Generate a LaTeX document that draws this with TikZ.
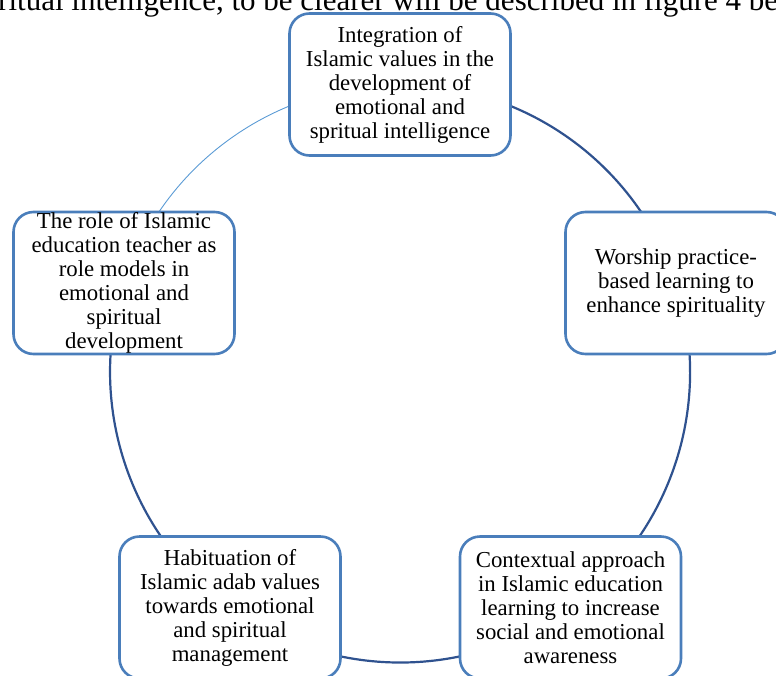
\documentclass[tikz,border=0pt]{standalone}
\usepackage{fontspec}
\setmainfont{Liberation Serif}
\usetikzlibrary{backgrounds}

\definecolor{boxblue}{RGB}{74,126,187}
\definecolor{arcblue}{RGB}{47,82,143}
\definecolor{thinblue}{RGB}{91,155,213}

\begin{document}
\begin{tikzpicture}[x=1pt,y=-1pt,
  stage/.style={draw=boxblue, line width=2.6pt, rounded corners=20pt, fill=white,
    minimum width=221pt, minimum height=142pt, align=center, inner sep=0pt,
    font=\fontsize{22.8}{24}\selectfont},
  link/.style={draw=arcblue, line width=2.2pt, bend right=36, looseness=0.94},
  thinlink/.style={draw=thinblue, line width=0.9pt, bend right=36, looseness=0.94}]
\useasboundingbox (0,0) rectangle (776,675);
% text line above the figure, cut by the page edge
\node (lead) [anchor=base west, inner sep=0pt, font=\fontsize{31}{31}\selectfont] at (-2,10)
  {ritual intelligence, to be clearer will be described in figure 4 be};
% the five stages round the cycle
\node[stage] (integration) at (400,84.5) {Integration of\\Islamic values in the\\development of\\emotional and\\spritual intelligence};
\node[stage] (worship) at (676,283) {Worship practice-\\based learning to\\enhance spirituality};
\node[stage] (contextual) at (570.5,607.5) {Contextual approach\\in Islamic education\\learning to increase\\social and emotional\\awareness};
\node[stage] (habituation) at (230,607.5) {Habituation of\\Islamic adab values\\towards emotional\\and spiritual\\management};
\node[stage] (teacher) at (124,283) {The role of Islamic\\education teacher as\\role models in\\emotional and\\spiritual\\development};
% arcs of the circle, hidden under the boxes
\begin{scope}[on background layer]
\draw[thinlink] (integration.center) to (teacher.center);
\draw[link] (teacher.center) to (habituation.center);
\draw[link] (habituation.center) to (contextual.center);
\draw[link] (contextual.center) to (worship.center);
\draw[link] (worship.center) to (integration.center);
\end{scope}
\end{tikzpicture}
\end{document}
